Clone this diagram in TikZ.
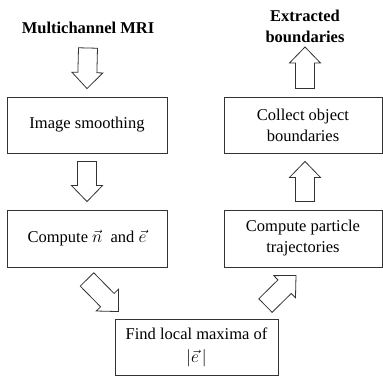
\documentclass[tikz,border=0pt]{standalone}
\usepackage{fontspec}
\setmainfont{Liberation Serif}
\usetikzlibrary{calc}

\newcommand\shaftw{9.5pt}
\newcommand\headw{15.5pt}
\newcommand\headl{16pt}

\tikzset{
  stepbox/.style={draw=black!80, line width=0.9pt, align=center, inner sep=0pt,
    minimum height=56pt, font=\fontsize{16.5}{21}\selectfont},
  heading/.style={align=center, font=\fontsize{16.5}{21}\selectfont\bfseries},
  fatarrow/.style={draw=black!80, line width=0.8pt, line join=miter, to path={
      ($(\tikztostart)!\shaftw!90:(\tikztotarget)$)
   -- ($($(\tikztotarget)!\headl!(\tikztostart)$)!\shaftw!-90:(\tikztostart)$)
   -- ($($(\tikztotarget)!\headl!(\tikztostart)$)!\headw!-90:(\tikztostart)$)
   -- (\tikztotarget)
   -- ($($(\tikztotarget)!\headl!(\tikztostart)$)!\headw!90:(\tikztostart)$)
   -- ($($(\tikztotarget)!\headl!(\tikztostart)$)!\shaftw!90:(\tikztostart)$)
   -- ($(\tikztostart)!\shaftw!-90:(\tikztotarget)$)
   -- cycle}}
}

\begin{document}
\begin{tikzpicture}[x=1pt, y=-1pt]
   \useasboundingbox (0,0) rectangle (383,376);
   %titulos
   \node[heading] (mri) at (88,28) {Multichannel MRI};
   \node[heading] (extracted) at (305,26) {Extracted\\boundaries};
   %cajas
   \node[stepbox, minimum width=160pt] (smooth) at (87,125) {Image smoothing};
   \node[stepbox, minimum width=158pt] (collect) at (303,125) {Collect object\\boundaries};
   \node[stepbox, minimum width=160pt, minimum height=57pt] (compute) at (87,238.5) {Compute $\vec{n}$~ and $\vec{e}$};
   \node[stepbox, minimum width=158pt, minimum height=57pt] (particle) at (303,238.5) {Compute particle\\trajectories};
   \node[stepbox, minimum width=163pt] (maxima) at (196.5,347) {Find local maxima of\\[2pt]$\big|\vec{e}\,\big|$};
   %flechas
   \draw[fatarrow] ([shift={(0,20)}]mri.center) to ([shift={(0,-8)}]smooth.north);
   \draw[fatarrow] ([shift={(0,8)}]smooth.south) to ([shift={(0,-8)}]compute.north);
   \draw[fatarrow] ([shift={(0,12)}]compute.south) to ([shift={(4,-7)}]maxima.north west);
   \draw[fatarrow] ([shift={(-13,-13)}]maxima.north east) to ([shift={(-7,8)}]particle.south);
   \draw[fatarrow] ([shift={(2,-8)}]particle.north) to ([shift={(2,8)}]collect.south);
   \draw[fatarrow] ([shift={(2,-8)}]collect.north) to ([shift={(0,21)}]extracted.center);
\end{tikzpicture}
\end{document}
